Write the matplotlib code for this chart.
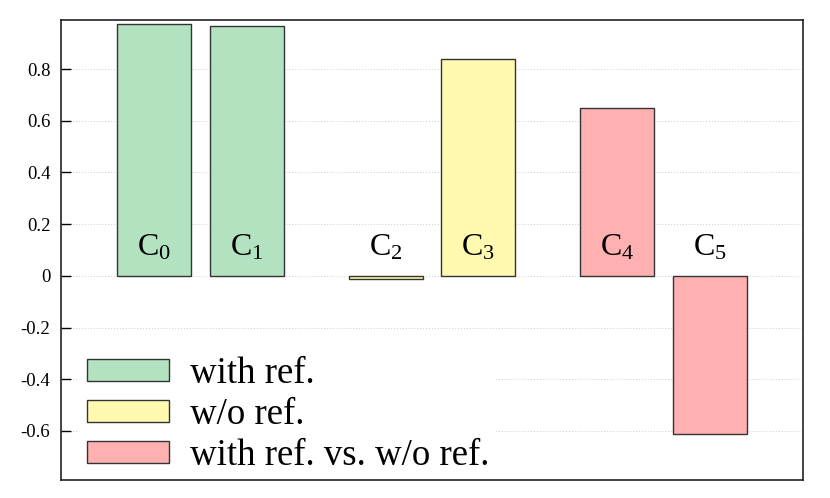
import numpy as np
import matplotlib
matplotlib.use("Agg")
import matplotlib.pyplot as plt
from matplotlib.patches import Patch

plt.rcParams["font.family"] = ["Liberation Serif", "DejaVu Serif"]
plt.rcParams["mathtext.fontset"] = "custom"
plt.rcParams["mathtext.rm"] = "Liberation Serif"
plt.rcParams["mathtext.it"] = "Liberation Serif:italic"

# data
labels = ["C$_0$", "C$_1$", "C$_2$", "C$_3$", "C$_4$", "C$_5$"]
values = [0.975, 0.967, -0.013, 0.839, 0.650, -0.611]
positions = [0, 1, 2.5, 3.5, 5, 6]
groups = ["with ref.", "w/o ref.", "with ref. vs. w/o ref."]
group_of_bar = [0, 0, 1, 1, 2, 2]
colors = ["#b3e2c0", "#fffab0", "#ffb0b0"]
edge = "#333333"

fig, ax = plt.subplots(figsize=(8.3, 4.98), dpi=100)
fig.subplots_adjust(left=0.074, right=0.967, top=0.96, bottom=0.036)

for x, v, g in zip(positions, values, group_of_bar):
    ax.bar(x, v, width=0.8, color=colors[g], edgecolor=edge, linewidth=1.0, zorder=2)

for x, lab in zip(positions, labels):
    ax.text(x, 0.05, lab, ha="center", va="bottom", fontsize=23, zorder=3)

ax.set_xlim(-1, 7)
ax.set_ylim(-0.79, 0.99)
ax.set_yticks([-0.6, -0.4, -0.2, 0, 0.2, 0.4, 0.6, 0.8])
ax.set_yticklabels(["-0.6", "-0.4", "-0.2", "0", "0.2", "0.4", "0.6", "0.8"])
ax.set_xticks([])
ax.tick_params(axis="y", direction="in", length=7, width=1, labelsize=13.5, pad=8)
ax.yaxis.grid(True, linestyle=(0, (1, 2)), color="#cccccc", linewidth=0.7, zorder=0)
ax.set_axisbelow(True)
for s in ax.spines.values():
    s.set_linewidth(1.2)
    s.set_color("#222222")

handles = [Patch(facecolor=c, edgecolor=edge, linewidth=1.0) for c in colors]
leg = ax.legend(handles, groups, loc="lower left", bbox_to_anchor=(0.024, 0.0),
                borderaxespad=0, fontsize=26.5, frameon=True, handlelength=2.25,
                handleheight=0.55, labelspacing=0.17, handletextpad=0.55, borderpad=0.2)
leg.get_frame().set_edgecolor("none")
leg.get_frame().set_facecolor("white")
leg.get_frame().set_alpha(1)
leg.set_zorder(1)

fig.savefig("out.png", dpi=100)
